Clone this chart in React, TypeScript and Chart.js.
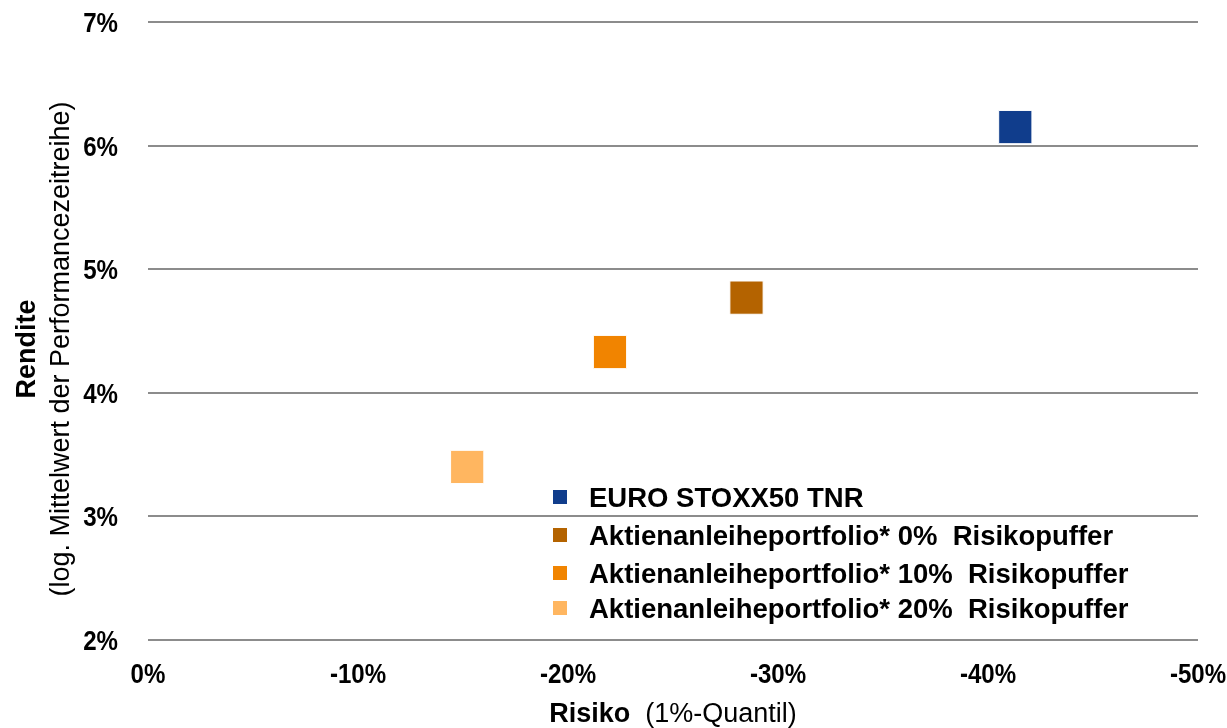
import React, { useEffect, useRef } from "react";
import { Chart, registerables } from "chart.js";

Chart.register(...registerables);

const seriesLabels = [
  "EURO STOXX50 TNR",
  "Aktienanleiheportfolio* 0%  Risikopuffer",
  "Aktienanleiheportfolio* 10%  Risikopuffer",
  "Aktienanleiheportfolio* 20%  Risikopuffer",
];
const seriesColors = ["#103D8C", "#B46300", "#F18400", "#FFB660"];
const riskValues = [-41.3, -28.5, -22.0, -15.2];
const returnValues = [6.15, 4.77, 4.33, 3.4];
const xTicks = [0, -10, -20, -30, -40, -50];
const yTicks = [2, 3, 4, 5, 6, 7];

const FONT = "'Liberation Sans', Arial, sans-serif";

const overlayPlugin = {
  id: "overlay",
  afterDraw(chart: any) {
    const ctx = chart.ctx;
    const area = chart.chartArea;
    const xs = chart.scales.x;
    const ys = chart.scales.y;
    ctx.save();
    ctx.fillStyle = "#000";
    ctx.font = `bold 28px ${FONT}`;
    ctx.textBaseline = "alphabetic";
    yTicks.forEach((v) => {
      const y = ys.getPixelForValue(v);
      ctx.save();
      ctx.translate(118, y + 10);
      ctx.scale(0.86, 1);
      ctx.textAlign = "right";
      ctx.fillText(`${v}%`, 0, 0);
      ctx.restore();
    });
    xTicks.forEach((v) => {
      const x = xs.getPixelForValue(v);
      ctx.save();
      ctx.translate(x, 683);
      ctx.scale(0.86, 1);
      ctx.textAlign = "center";
      ctx.fillText(`${v}%`, 0, 0);
      ctx.restore();
    });
    const cy = 349;
    ctx.save();
    ctx.translate(28, cy);
    ctx.rotate(-Math.PI / 2);
    ctx.textAlign = "center";
    ctx.textBaseline = "middle";
    ctx.font = `bold 27px ${FONT}`;
    ctx.fillText("Rendite", 0, 0);
    ctx.restore();
    ctx.save();
    ctx.translate(62, cy);
    ctx.rotate(-Math.PI / 2);
    ctx.textAlign = "center";
    ctx.textBaseline = "middle";
    ctx.font = `27px ${FONT}`;
    ctx.fillText("(log. Mittelwert der Performancezeitreihe)", 0, 0);
    ctx.restore();
    const bold = "Risiko";
    const normal = "  (1%-Quantil)";
    ctx.font = `bold 27px ${FONT}`;
    const wb = ctx.measureText(bold).width;
    ctx.font = `27px ${FONT}`;
    const wn = ctx.measureText(normal).width;
    const cx = (area.left + area.right) / 2;
    const x0 = cx - (wb + wn) / 2;
    ctx.textBaseline = "alphabetic";
    ctx.textAlign = "left";
    ctx.font = `bold 27px ${FONT}`;
    ctx.fillText(bold, x0, 722);
    ctx.font = `27px ${FONT}`;
    ctx.fillText(normal, x0 + wb, 722);
    const rows = [497, 535, 573, 608];
    chart.data.datasets.forEach((ds: any, i: number) => {
      const y = rows[i];
      ctx.fillStyle = ds.backgroundColor;
      ctx.fillRect(553, y - 7, 14, 14);
      ctx.fillStyle = "#000";
      ctx.font = `bold 27.5px ${FONT}`;
      ctx.textAlign = "left";
      ctx.textBaseline = "alphabetic";
      ctx.fillText(ds.label, 589, y + 10);
    });
    ctx.restore();
  },
};

export default function App() {
  const ref = useRef<HTMLCanvasElement>(null);
  useEffect(() => {
    if (!ref.current) return;
    const chart = new Chart(ref.current, {
      type: "scatter",
      data: {
        datasets: seriesLabels.map((label, i) => ({
          label,
          data: [{ x: riskValues[i], y: returnValues[i] }],
          backgroundColor: seriesColors[i],
          borderColor: "#ffffff",
          borderWidth: 1,
          pointStyle: "rect",
          pointRadius: 23.5,
          pointHoverRadius: 23.5,
        })),
      },
      options: {
        animation: false,
        responsive: false,
        maintainAspectRatio: false,
        layout: { autoPadding: false, padding: { top: 22, right: 29, left: 0, bottom: 0 } },
        plugins: {
          legend: { display: false },
          tooltip: { enabled: false },
        },
        scales: {
          x: {
            type: "linear",
            min: -50,
            max: 0,
            reverse: true,
            afterFit: (s: any) => {
              s.height = 88;
            },
            afterBuildTicks: (s: any) => {
              s.ticks = xTicks.map((v) => ({ value: v }));
            },
            grid: { display: false, drawTicks: false },
            border: { display: false },
            ticks: { display: false },
          },
          y: {
            type: "linear",
            min: 2,
            max: 7,
            afterFit: (s: any) => {
              s.width = 148;
            },
            afterBuildTicks: (s: any) => {
              s.ticks = yTicks.map((v) => ({ value: v }));
            },
            grid: { color: "#8c8c8c", lineWidth: 2, drawTicks: false },
            border: { display: false },
            ticks: { display: false },
          },
        },
      },
      plugins: [overlayPlugin],
    } as any);
    return () => chart.destroy();
  }, []);
  return (
    <div style={{ position: "fixed", left: 0, top: 0, width: 1227, height: 728, background: "#fff" }}>
      <canvas ref={ref} width={1227} height={728} style={{ width: 1227, height: 728 }} />
    </div>
  );
}
